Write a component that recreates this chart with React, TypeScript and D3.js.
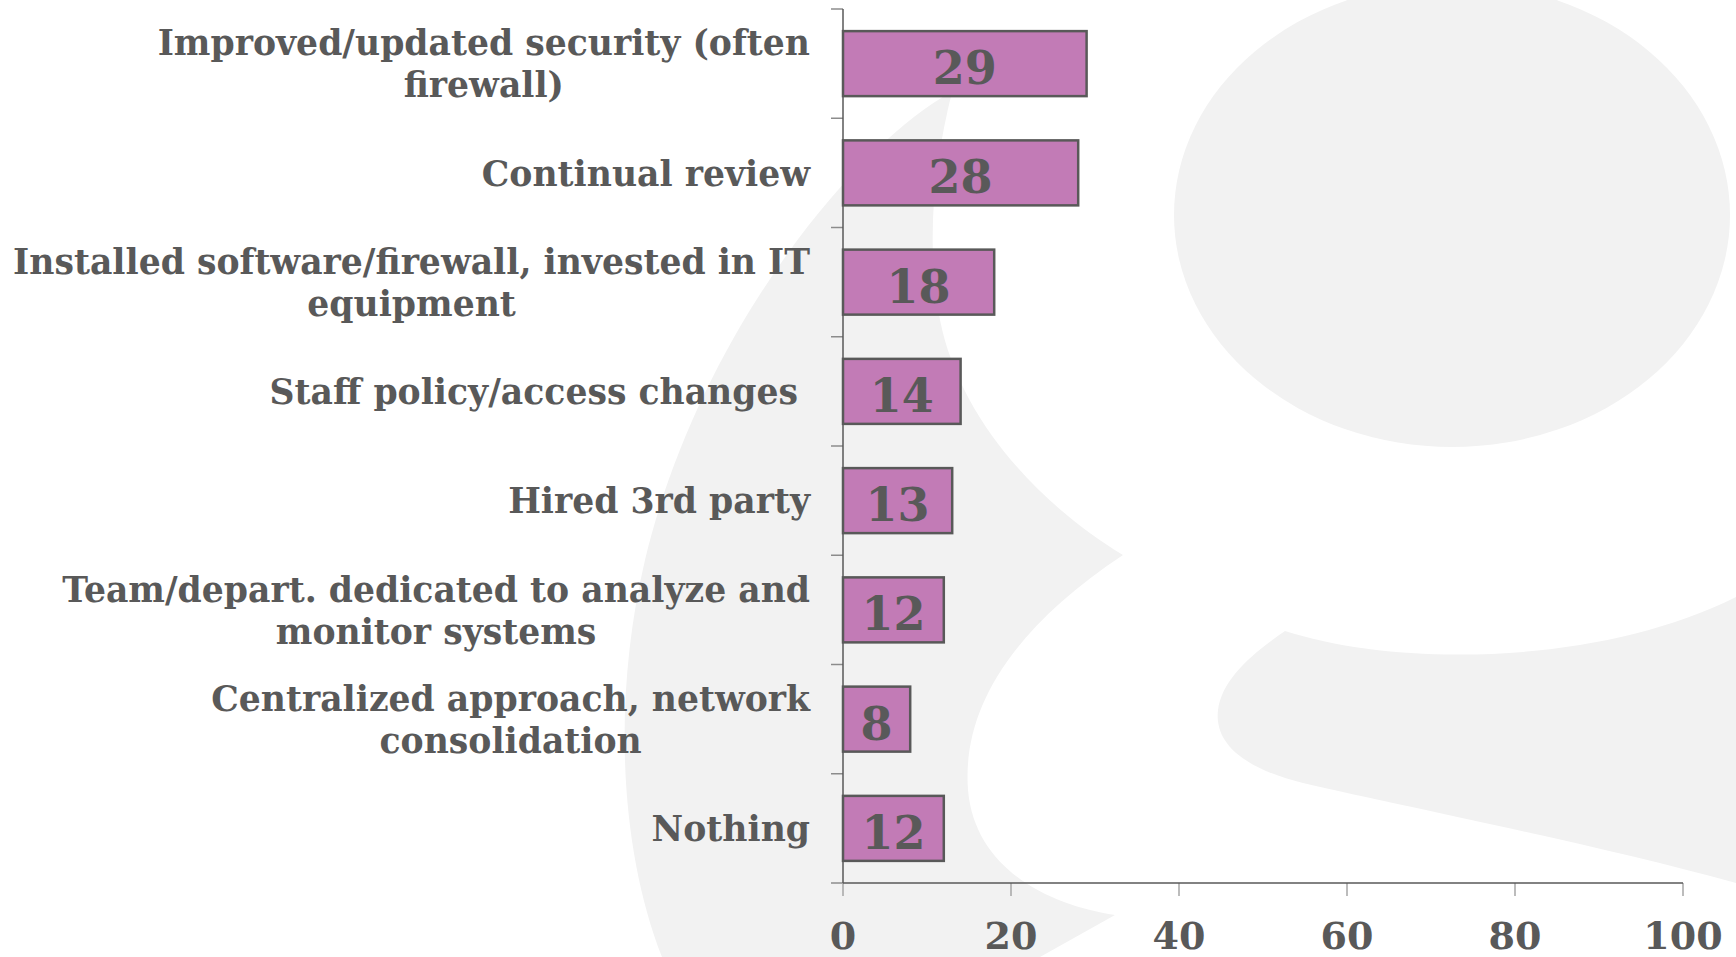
import React, { useEffect, useRef } from 'react';
import * as d3 from 'd3';

const categories = [
  'Improved/updated security (often firewall)',
  'Continual review',
  'Installed software/firewall, invested in IT equipment',
  'Staff policy/access changes',
  'Hired 3rd party',
  'Team/depart. dedicated to analyze and monitor systems',
  'Centralized approach, network consolidation',
  'Nothing',
];
const labelLines: string[][] = [
  ['Improved/updated security (often', 'firewall)'],
  ['Continual review'],
  ['Installed software/firewall, invested in IT', 'equipment'],
  ['Staff policy/access changes '],
  ['Hired 3rd party'],
  ['Team/depart. dedicated to analyze and', 'monitor systems'],
  ['Centralized approach, network', 'consolidation'],
  ['Nothing'],
];
const values = [29, 28, 18, 14, 13, 12, 8, 12];
const xTicks = [0, 20, 40, 60, 80, 100];

const FONT = "'DejaVu Serif', serif";
const TEXT = '#595959';

export default function App() {
  const ref = useRef<SVGSVGElement>(null);
  useEffect(() => {
    const svg = d3.select(ref.current as SVGSVGElement);
    svg.selectAll('*').remove();

    // decorative watermark
    const bg = svg.append('g').attr('fill', '#F2F2F2');
    bg.append('path').attr(
      'd',
      'M952,92 C860,140 700,330 645,560 C612,700 620,850 662,957 L1040,957 L1115,915 ' +
        'C1050,905 975,870 968,790 C962,710 1010,630 1123,555 ' +
        'C1040,505 960,420 940,320 C925,240 935,160 952,92 Z'
    );
    bg.append('ellipse').attr('cx', 1452).attr('cy', 215).attr('rx', 278).attr('ry', 232);
    bg.append('path').attr(
      'd',
      'M1285,631 C1400,668 1600,665 1736,597 L1736,883 C1600,845 1420,810 1303,783 ' +
        'C1230,765 1215,735 1218,710 C1222,680 1250,655 1285,631 Z'
    );

    const x = d3.scaleLinear().domain([0, 100]).range([843, 1683]);
    const y = d3
      .scaleBand<string>()
      .domain(categories)
      .range([9, 883])
      .paddingInner(0.405)
      .paddingOuter(0.2025);
    const bw = y.bandwidth();
    const step = y.step();
    const [y0, y1] = y.range();

    const g = svg.append('g');
    // y ticks at band boundaries
    d3.range(categories.length + 1).forEach((i) => {
      const yy = y0 + i * step;
      g.append('line')
        .attr('x1', x(0) - 12)
        .attr('x2', x(0))
        .attr('y1', yy)
        .attr('y2', yy)
        .attr('stroke', '#8c8c8c')
        .attr('stroke-width', 1.5);
    });
    // x ticks
    xTicks.forEach((t) => {
      g.append('line')
        .attr('x1', x(t))
        .attr('x2', x(t))
        .attr('y1', y1)
        .attr('y2', y1 + 13)
        .attr('stroke', '#a6a6a6')
        .attr('stroke-width', 1.5);
      g.append('text')
        .attr('x', x(t))
        .attr('y', 949)
        .attr('text-anchor', 'middle')
        .attr('font-family', FONT)
        .attr('font-weight', 'bold')
        .attr('font-size', 38)
        .attr('fill', TEXT)
        .text(String(t));
    });
    // axis lines
    g.append('line')
      .attr('x1', x(0))
      .attr('x2', x(0))
      .attr('y1', y0)
      .attr('y2', y1)
      .attr('stroke', '#595959')
      .attr('stroke-width', 1.5);
    g.append('line')
      .attr('x1', x(0))
      .attr('x2', x(100))
      .attr('y1', y1)
      .attr('y2', y1)
      .attr('stroke', '#595959')
      .attr('stroke-width', 1.5);

    // bars
    categories.forEach((c, i) => {
      const v = values[i];
      g.append('rect')
        .attr('x', x(0))
        .attr('y', y(c)!)
        .attr('width', x(v) - x(0))
        .attr('height', bw)
        .attr('fill', '#C27BB6')
        .attr('stroke', '#595959')
        .attr('stroke-width', 2.5);
      g.append('text')
        .attr('x', (x(0) + x(v)) / 2)
        .attr('y', y(c)! + bw / 2 + 20.5)
        .attr('text-anchor', 'middle')
        .attr('font-family', FONT)
        .attr('font-weight', 'bold')
        .attr('font-size', 46)
        .attr('fill', TEXT)
        .text(String(v));
    });

    // category labels (centered block, right-aligned at 810)
    const base = 34;
    const probe = svg
      .append('text')
      .attr('font-family', FONT)
      .attr('font-weight', 'bold')
      .attr('font-size', base)
      .text(labelLines[2][0]);
    const pw = (probe.node() as SVGTextElement).getComputedTextLength();
    probe.remove();
    const fs = (base * 797) / pw;
    const right = 810;
    const lineGap = 42;
    const capH = fs * 0.73;
    categories.forEach((c, i) => {
      const lines = labelLines[i];
      const cy = y(c)! + bw / 2;
      const texts = lines.map((ln, j) => {
        const b = lines.length === 1 ? cy + capH / 2 : cy - (lineGap - capH) / 2 + j * lineGap;
        return svg
          .append('text')
          .attr('font-family', FONT)
          .attr('font-weight', 'bold')
          .attr('font-size', fs)
          .attr('fill', TEXT)
          .style('white-space', 'pre')
          .attr('y', b)
          .text(ln);
      });
      const widths = texts.map((t) => (t.node() as SVGTextElement).getComputedTextLength());
      const mw = Math.max(...widths);
      texts.forEach((t) => t.attr('x', right - mw / 2).attr('text-anchor', 'middle'));
    });
  }, []);

  return (
    <svg
      ref={ref}
      width={1736}
      height={957}
      style={{ position: 'fixed', left: 0, top: 0, background: '#ffffff' }}
    />
  );
}
